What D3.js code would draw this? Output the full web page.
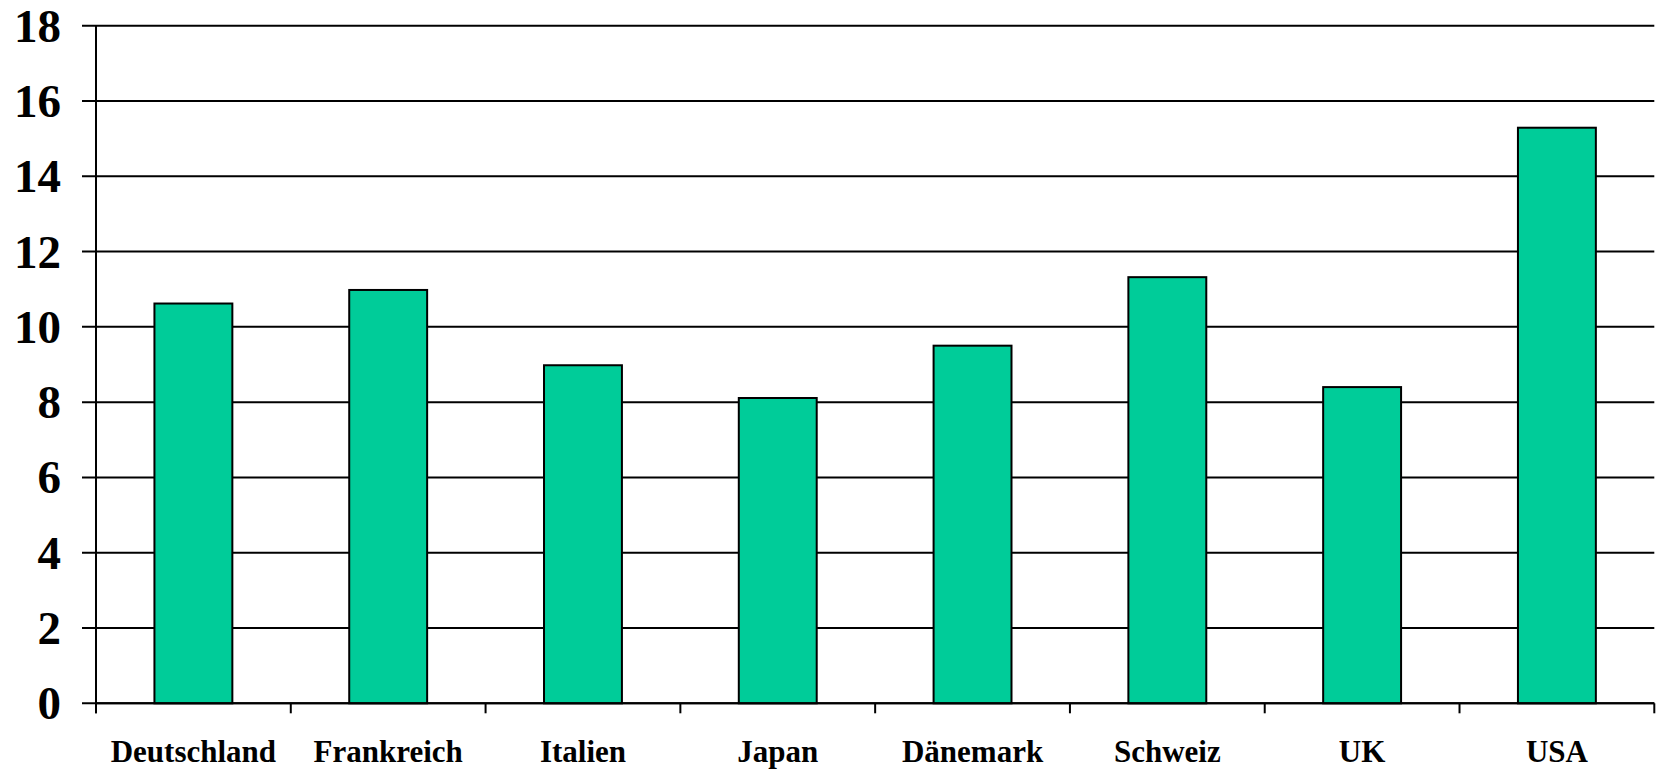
<!DOCTYPE html>
<html>
<head>
<meta charset="utf-8">
<script src="https://cdn.jsdelivr.net/npm/d3@7"></script>
<style>
  html, body { margin: 0; padding: 0; background: #fff; }
  svg { display: block; }
</style>
</head>
<body>
<svg id="chart" width="1666" height="770"></svg>
<script>
// Country labels and their values
const categories = ["Deutschland", "Frankreich", "Italien", "Japan", "Dänemark", "Schweiz", "UK", "USA"];
const values = [10.62, 10.98, 8.98, 8.11, 9.5, 11.32, 8.4, 15.29];
const yTicks = [0, 2, 4, 6, 8, 10, 12, 14, 16, 18];

const W = 1666, H = 770;
const margin = { top: 25.7, right: 11.7, bottom: 66.7, left: 96 };
const innerW = W - margin.left - margin.right;
const innerH = H - margin.top - margin.bottom;

const svg = d3.select("#chart");
const g = svg.append("g").attr("transform", `translate(${margin.left},${margin.top})`);

const x = d3.scaleBand().domain(categories).range([0, innerW]).paddingInner(0.6).paddingOuter(0.3);
const y = d3.scaleLinear().domain([0, 18]).range([innerH, 0]);

// Horizontal gridlines with left ticks
g.append("g")
  .selectAll("line")
  .data(yTicks)
  .join("line")
  .attr("x1", -14)
  .attr("x2", innerW)
  .attr("y1", d => y(d))
  .attr("y2", d => y(d))
  .attr("stroke", "#000")
  .attr("stroke-width", 2);

// Y tick labels
g.append("g")
  .selectAll("text")
  .data(yTicks)
  .join("text")
  .attr("x", -35)
  .attr("y", d => y(d))
  .attr("dy", "0.34em")
  .attr("text-anchor", "end")
  .attr("font-family", "'Liberation Serif', 'Times New Roman', serif")
  .attr("font-weight", "bold")
  .attr("font-size", 47)
  .text(d => d);

// Bars
g.append("g")
  .selectAll("rect")
  .data(categories)
  .join("rect")
  .attr("x", d => x(d))
  .attr("y", (d, i) => y(values[i]))
  .attr("width", x.bandwidth())
  .attr("height", (d, i) => innerH - y(values[i]))
  .attr("fill", "#00CC99")
  .attr("stroke", "#000")
  .attr("stroke-width", 2);

// Y axis line
g.append("line")
  .attr("x1", 0).attr("x2", 0)
  .attr("y1", 0).attr("y2", innerH + 10)
  .attr("stroke", "#000").attr("stroke-width", 2);

// X axis line and category boundary ticks
g.append("line")
  .attr("x1", 0).attr("x2", innerW)
  .attr("y1", innerH).attr("y2", innerH)
  .attr("stroke", "#000").attr("stroke-width", 2);

const boundaries = d3.range(categories.length + 1).map(i => i * innerW / categories.length);
g.append("g")
  .selectAll("line")
  .data(boundaries)
  .join("line")
  .attr("x1", d => d).attr("x2", d => d)
  .attr("y1", innerH).attr("y2", innerH + 10)
  .attr("stroke", "#000").attr("stroke-width", 2);

// Category labels
g.append("g")
  .selectAll("text")
  .data(categories)
  .join("text")
  .attr("x", d => x(d) + x.bandwidth() / 2)
  .attr("y", innerH + 59)
  .attr("text-anchor", "middle")
  .attr("font-family", "'Liberation Serif', 'Times New Roman', serif")
  .attr("font-weight", "bold")
  .attr("font-size", 31)
  .text(d => d);
</script>
</body>
</html>
